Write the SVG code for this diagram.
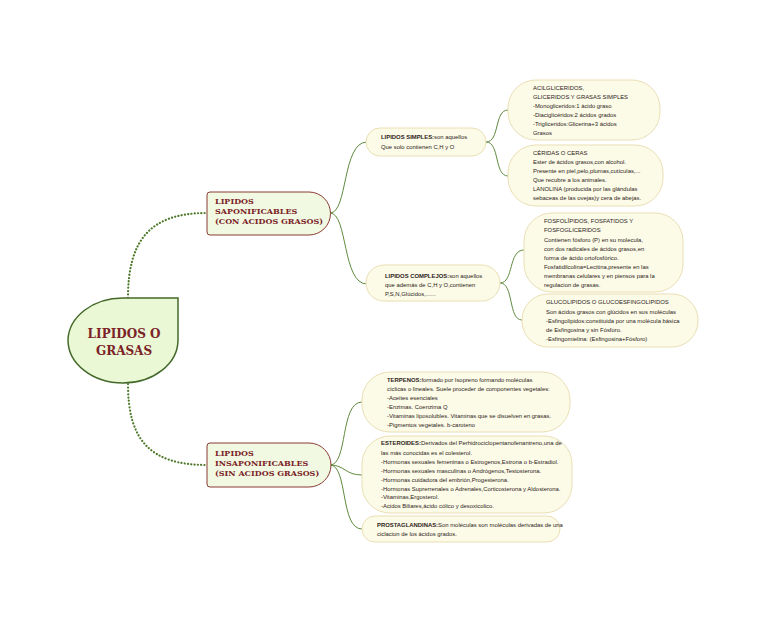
<svg xmlns="http://www.w3.org/2000/svg" width="768" height="620" viewBox="0 0 768 620">
<style>
.bg{fill:#ffffff}
.dot{fill:none;stroke:#4f7a2c;stroke-width:2.2;stroke-dasharray:0.1,3.2;stroke-linecap:round}
.ln{fill:none;stroke:#5f8a3e;stroke-width:1}
.root{fill:#eaf8d6;stroke:#44692a;stroke-width:1.5}
.l1{fill:#f1f9e2;stroke:#8a3b33;stroke-width:1}
.box{fill:#fbfbe8;stroke:#eadfb4;stroke-width:1}
.h1{font-family:"DejaVu Serif",serif;font-weight:bold;font-size:12px;fill:#7b2327}
.h2{font-family:"DejaVu Serif",serif;font-weight:bold;font-size:8px;fill:#7b2327}
.t{font-family:"Liberation Sans Narrow","Liberation Sans",sans-serif;font-size:5.9px;fill:#2e2218}
.b{font-weight:bold}
</style>
<rect class="bg" x="0" y="0" width="768" height="620"/>
<g id="connectors">
<path class="dot" d="M128,298 C128,240 150,213 207,213"/>
<path class="dot" d="M128,384 C128,440 150,465 207,465"/>
<path class="ln" d="M330,213 C348,213 342,142 367,142"/>
<path class="ln" d="M330,213 C348,213 342,284 367,284"/>
<path class="ln" d="M486,142 C500,142 494,110 508,110"/>
<path class="ln" d="M486,142 C500,142 494,176 508,176"/>
<path class="ln" d="M500,283 C514,283 508,250 524,250"/>
<path class="ln" d="M500,283 C514,283 508,320 522,320"/>
<path class="ln" d="M330,465 C348,465 340,402 362,402"/>
<path class="ln" d="M330,465 C345,465 345,475 362,475"/>
<path class="ln" d="M330,465 C348,465 340,529 362,529"/>
</g>
<g id="root">
<path class="root" d="M178,298 L178,340 A55,43 0 0 1 123,383 A55,43 0 0 1 68,340 A55,43 0 0 1 123,298 Z"/>
<text class="h1" x="124" y="338" text-anchor="middle">LIPIDOS O</text>
<text class="h1" x="124" y="355" text-anchor="middle">GRASAS</text>
</g>
<g id="saponificables">
<path class="l1" d="M210,192 H309 A21.5,21.5 0 0 1 309,235 H210 Q207,235 207,232 V195 Q207,192 210,192 Z"/>
<text class="h2" x="215" y="204">LIPIDOS</text>
<text class="h2" x="215" y="214">SAPONIFICABLES</text>
<text class="h2" x="215" y="224">(CON ACIDOS GRASOS)</text>
</g>
<g id="insaponificables">
<path class="l1" d="M210,443 H309 A22,22 0 0 1 309,487 H210 Q207,487 207,484 V446 Q207,443 210,443 Z"/>
<text class="h2" x="215" y="456">LIPIDOS</text>
<text class="h2" x="215" y="466">INSAPONIFICABLES</text>
<text class="h2" x="215" y="476">(SIN ACIDOS GRASOS)</text>
</g>
<g id="simples">
<rect class="box" x="366" y="128" width="120" height="28" rx="14"/>
<text class="t" x="381" y="139"><tspan class="b">LIPIDOS SIMPLES:</tspan>son aquellos</text>
<text class="t" x="381" y="149">Que solo contienen C,H y O</text>
</g>
<g id="complejos">
<rect class="box" x="366" y="265" width="134" height="36" rx="18"/>
<text class="t" x="385" y="278"><tspan class="b">LIPIDOS COMPLEJOS:</tspan>son aquellos</text>
<text class="t" x="385" y="287">que además de C,H y O,contienen</text>
<text class="t" x="385" y="296">P,S,N,Glúcidos,......</text>
</g>
<g id="acilgliceridos">
<rect class="box" x="508" y="80" width="152" height="60" rx="28"/>
<text class="t" x="533" y="90">ACILGLICERIDOS,</text>
<text class="t" x="533" y="99">GLICERIDOS Y GRASAS SIMPLES</text>
<text class="t" x="533" y="108">-Monogliceridos:1 ácido graso</text>
<text class="t" x="533" y="117">-Diaciglicéridos:2 ácidos grados</text>
<text class="t" x="533" y="126">-Trigliceridos:Glicerina+3 ácidos</text>
<text class="t" x="533" y="135">Grasos</text>
</g>
<g id="ceridas">
<rect class="box" x="508" y="145" width="155" height="61" rx="28"/>
<text class="t" x="533" y="155">CÉRIDAS O CERAS</text>
<text class="t" x="533" y="164">Ester de ácidos grasos,con alcohol.</text>
<text class="t" x="533" y="173">Presente en piel,pelo,plumas,cutículas,...</text>
<text class="t" x="533" y="182">Que recubre a los animales.</text>
<text class="t" x="533" y="191">LANOLINA (producida por las glándulas</text>
<text class="t" x="533" y="200">sebaceas de las ovejas)y cera de abejas.</text>
</g>
<g id="fosfolipidos">
<rect class="box" x="524" y="213" width="159" height="79" rx="28"/>
<text class="t" x="544" y="223">FOSFOLÍPIDOS, FOSFATIDOS Y</text>
<text class="t" x="544" y="232">FOSFOGLICERIDOS</text>
<text class="t" x="544" y="242">Contienen fósforo (P) en su molecula,</text>
<text class="t" x="544" y="251">con dos radicales de ácidos grasos,en</text>
<text class="t" x="544" y="260">forma de ácido ortofosfórico.</text>
<text class="t" x="544" y="269">Fosfatidilcolina=Lecitina,presente en las</text>
<text class="t" x="544" y="278">membranas celulares y en piensos para la</text>
<text class="t" x="544" y="287">regulacion de grasas.</text>
</g>
<g id="glucolipidos">
<rect class="box" x="522" y="294" width="176" height="53" rx="26"/>
<text class="t" x="546" y="304">GLUCOLIPIDOS O GLUCOESFINGOLIPIDOS</text>
<text class="t" x="546" y="314">Son ácidos grasos con glúcidos en sus moléculas</text>
<text class="t" x="546" y="323">-Esfingolipidos:constituida por una molécula básica</text>
<text class="t" x="546" y="332">de Esfingosina y sin Fósforo.</text>
<text class="t" x="546" y="341">-Esfingomielina: (Esfingosina+Fósforo)</text>
</g>
<g id="terpenos">
<rect class="box" x="362" y="372" width="208" height="60" rx="28"/>
<text class="t" x="387" y="382"><tspan class="b">TERPENOS:</tspan>formado por Isopreno formando moléculas</text>
<text class="t" x="387" y="391">cíclicas o lineales. Suele proceder de componentes vegetales:</text>
<text class="t" x="387" y="400">-Aceites esenciales</text>
<text class="t" x="387" y="409">-Enzimas. Coenzima Q</text>
<text class="t" x="387" y="418">-Vitaminas liposolubles. Vitaminas que se disuelven en grasas.</text>
<text class="t" x="387" y="427">-Pigmentos vegetales. b-caroteno</text>
</g>
<g id="esteroides">
<rect class="box" x="362" y="436" width="210" height="77" rx="28"/>
<text class="t" x="381" y="445"><tspan class="b">ESTEROIDES:</tspan>Derivados del Perhidrociclopentanofenantreno,una de</text>
<text class="t" x="381" y="455">las más conocidas es el colesterol.</text>
<text class="t" x="381" y="464">-Hormonas sexuales femeninas o Estrogenos,Estrona o b-Estradiol.</text>
<text class="t" x="381" y="473">-Hormonas sexuales masculinas o Andrógenos,Testosterona.</text>
<text class="t" x="381" y="482">-Hormonas cuidadora del embrión,Progesterona.</text>
<text class="t" x="381" y="491">-Hormonas Suprerrenales o Adrenales,Corticosterona y Aldosterona.</text>
<text class="t" x="381" y="499">-Vitaminas,Ergosterol.</text>
<text class="t" x="381" y="508">-Acidos Biliares,ácido cólico y desoxicolico.</text>
</g>
<g id="prostaglandinas">
<rect class="box" x="362" y="516" width="198" height="26" rx="13"/>
<text class="t" x="377" y="527"><tspan class="b">PROSTAGLANDINAS:</tspan>Son moléculas son moléculas derivadas  de una</text>
<text class="t" x="377" y="536">ciclacion de los ácidos grados.</text>
</g>
</svg>
